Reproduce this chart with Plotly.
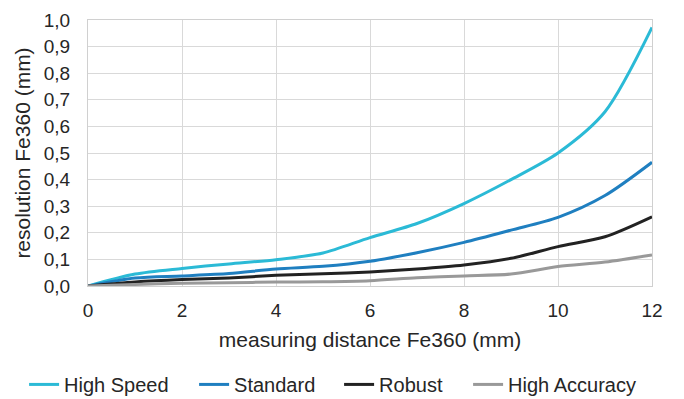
import plotly.graph_objects as go

distance = [0, 1, 2, 3, 4, 5, 6, 7, 8, 9, 10, 11, 12]
high_speed = [0, 0.045, 0.066, 0.083, 0.099, 0.124, 0.182, 0.235, 0.31, 0.40, 0.50, 0.655, 0.972]
standard = [0, 0.030, 0.038, 0.047, 0.064, 0.074, 0.093, 0.125, 0.164, 0.21, 0.258, 0.34, 0.465]
robust = [0, 0.015, 0.024, 0.030, 0.040, 0.046, 0.053, 0.064, 0.079, 0.104, 0.148, 0.185, 0.26]
high_accuracy = [0, 0.006, 0.010, 0.012, 0.015, 0.016, 0.020, 0.031, 0.038, 0.045, 0.073, 0.090, 0.117]

series = [
    ("High Speed", high_speed, "#2bbad6", 125),
    ("Standard", standard, "#1f7fc0", 100),
    ("Robust", robust, "#222222", 84),
    ("High Accuracy", high_accuracy, "#999999", 130),
]

fig = go.Figure()
for name, vals, col, lw in series:
    fig.add_trace(go.Scatter(x=distance, y=vals, name=name, mode="lines", legendwidth=lw,
                             line=dict(color=col, width=3, shape="spline", smoothing=0.8)))

font = "Liberation Sans, Arial, sans-serif"
txt = "#262626"
fig.update_layout(
    width=684, height=399,
    margin=dict(l=80, r=40, t=12, b=121, autoexpand=False),
    paper_bgcolor="white", plot_bgcolor="white",
    separators=", ",
    font=dict(family=font, size=20, color=txt),
    showlegend=True,
    legend=dict(orientation="h", x=(17 - 80) / 556, xanchor="left",
                y=-0.37, yanchor="middle",
                font=dict(size=20, color=txt), itemwidth=30,
                traceorder="normal"),
    xaxis=dict(range=[0, 12], dtick=2, showgrid=True, gridcolor="#d9d9d9", gridwidth=1.2,
               zeroline=False, showline=True, linecolor="#d0d0d0", linewidth=1.2,
               mirror=True, ticks="outside", ticklen=7, tickcolor="rgba(0,0,0,0)",
               tickfont=dict(size=19), automargin=False,
               title=dict(text="measuring distance Fe360 (mm)", font=dict(size=21), standoff=12)),
    yaxis=dict(range=[0, 1.0], dtick=0.1, tickformat=".1f", showgrid=True, gridcolor="#d9d9d9",
               gridwidth=1.2, zeroline=False, showline=True, linecolor="#d0d0d0", linewidth=1.2,
               mirror=True, ticks="outside", ticklen=13, tickcolor="rgba(0,0,0,0)",
               tickfont=dict(size=19), automargin=False,
               title=dict(text="resolution Fe360 (mm)", font=dict(size=21), standoff=7)),
)

fig.write_html("out.html")
